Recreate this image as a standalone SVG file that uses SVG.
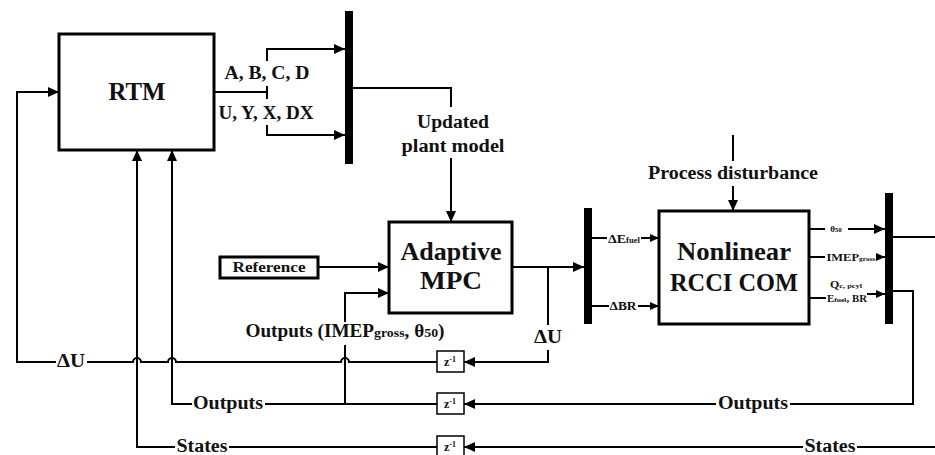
<svg xmlns="http://www.w3.org/2000/svg" width="935" height="455" viewBox="0 0 935 455">
<defs>
<marker id="ah" markerUnits="userSpaceOnUse" markerWidth="11" markerHeight="10" refX="11" refY="5" orient="auto">
<path d="M0,0 L11,5 L0,10 z" fill="#000"/>
</marker>
<marker id="as" markerUnits="userSpaceOnUse" markerWidth="9" markerHeight="8" refX="9" refY="4" orient="auto">
<path d="M0,0 L9,4 L0,8 z" fill="#000"/>
</marker>
</defs>
<style>
text{font-family:"Liberation Serif","Times New Roman",serif;font-weight:bold;fill:#111;text-anchor:middle}
.box{fill:#fff;stroke:#000;stroke-width:3}
.zb{fill:#fff;stroke:#000;stroke-width:1.5}
.bar{fill:#000}
.c{fill:none;stroke:#000;stroke-width:2}
.a{marker-end:url(#ah)}
.s{marker-end:url(#as)}
.big{font-size:26px}
.mid{font-size:18px}
</style>

<g id="connectors">
<path class="c" d="M214,92 H267"/>
<path class="c" d="M267,86 V99"/>
<path class="c a" d="M267,61 V49 H345"/>
<path class="c a" d="M267,125 V135 H345"/>
<path class="c" d="M353,88 H451 V107"/>
<path class="c a" d="M451,158 V222"/>
<path class="c a" d="M318,267 H389"/>
<path class="c a" d="M345,322 V293 H389"/>
<path class="c" d="M345,345 V404"/>
<path class="c a" d="M512,267 H584"/>
<path class="c" d="M548,267 V325"/>
<path class="c a" d="M548,350 V362 H464"/>
<path class="c" d="M592,238 H607"/>
<path class="c s" d="M641,238 H659"/>
<path class="c" d="M592,306 H609"/>
<path class="c s" d="M638,306 H659"/>
<path class="c" d="M733,135 V161"/>
<path class="c a" d="M733,186 V211"/>
<path class="c" d="M809,229 H825"/>
<path class="c a" d="M848,229 H885"/>
<path class="c" d="M809,257 H825"/>
<path class="c s" d="M876,257 H885"/>
<path class="c" d="M809,298 H826"/>
<path class="c s" d="M867,294 H885"/>
<path class="c" d="M893,237 H935"/>
<path class="c" d="M893,291 H913 V404 H790"/>
<path class="c a" d="M716,404 H464"/>
<path class="c" d="M935,447 H857"/>
<path class="c a" d="M803,447 H464"/>
<path class="c" d="M437,362 H349 A4,4 0 0 0 341,362 H176 A4,4 0 0 0 168,362 H141 A4,4 0 0 0 133,362 H87"/>
<path class="c a" d="M56,362 H17 V92 H59"/>
<path class="c" d="M437,404 H265"/>
<path class="c a" d="M192,404 H172 V150"/>
<path class="c" d="M437,447 H229"/>
<path class="c a" d="M175,447 H137 V150"/>
</g>

<g id="rtm">
<rect class="box" x="59" y="34" width="155" height="116"/>
<text class="big" x="137" y="100" textLength="57" lengthAdjust="spacingAndGlyphs">RTM</text>
</g>
<g id="labels-rtm">
<text class="mid" x="267" y="79" textLength="85" lengthAdjust="spacingAndGlyphs">A, B, C, D</text>
<text class="mid" x="266" y="119" textLength="95" lengthAdjust="spacingAndGlyphs">U, Y, X, DX</text>
</g>
<g id="bar1"><rect class="bar" x="345" y="11" width="8" height="153"/></g>
<g id="updated-label">
<text class="mid" x="453" y="128" textLength="72" lengthAdjust="spacingAndGlyphs">Updated</text>
<text class="mid" x="453" y="152" textLength="103" lengthAdjust="spacingAndGlyphs">plant model</text>
</g>
<g id="mpc">
<rect class="box" x="389" y="222" width="123" height="91"/>
<text class="big" x="451" y="260" textLength="101" lengthAdjust="spacingAndGlyphs">Adaptive</text>
<text class="big" x="451" y="289" textLength="62" lengthAdjust="spacingAndGlyphs">MPC</text>
</g>
<g id="reference">
<rect class="box" x="220" y="257" width="98" height="21"/>
<text x="269" y="272" style="font-size:14px" textLength="73" lengthAdjust="spacingAndGlyphs">Reference</text>
</g>
<g id="outputs-label">
<text class="mid" x="345" y="337" textLength="199" lengthAdjust="spacingAndGlyphs">Outputs (IMEP<tspan style="font-size:13px">gross</tspan>, θ<tspan style="font-size:13px">50</tspan>)</text>
</g>
<text class="mid" x="548" y="343" textLength="28" lengthAdjust="spacingAndGlyphs">ΔU</text>
<g id="bar2"><rect class="bar" x="584" y="208" width="8" height="116"/></g>
<text x="624" y="243" style="font-size:13px" textLength="32" lengthAdjust="spacingAndGlyphs">ΔE<tspan style="font-size:8px">fuel</tspan></text>
<text x="623" y="310" style="font-size:13px" textLength="27" lengthAdjust="spacingAndGlyphs">ΔBR</text>
<text class="mid" x="733" y="179" textLength="170" lengthAdjust="spacingAndGlyphs">Process disturbance</text>
<g id="nonlinear">
<rect class="box" x="659" y="211" width="150" height="113"/>
<text class="big" x="734" y="260" textLength="114" lengthAdjust="spacingAndGlyphs">Nonlinear</text>
<text class="big" x="734" y="291" textLength="128" lengthAdjust="spacingAndGlyphs">RCCI COM</text>
</g>
<text x="836" y="232" style="font-size:9px">θ<tspan style="font-size:7px">50</tspan></text>
<text x="851" y="261" style="font-size:10px" textLength="49" lengthAdjust="spacingAndGlyphs">IMEP<tspan style="font-size:6px">gross</tspan></text>
<text x="846" y="288" style="font-size:10px" textLength="32" lengthAdjust="spacingAndGlyphs">Q<tspan style="font-size:7px">c, pcyl</tspan></text>
<text x="847" y="302" style="font-size:10px" textLength="40" lengthAdjust="spacingAndGlyphs">E<tspan style="font-size:7px">fuel</tspan>, BR</text>
<g id="bar3"><rect class="bar" x="885" y="193" width="8" height="131"/></g>
<g id="z1"><rect class="zb" x="437" y="351" width="27" height="21"/><text x="450" y="366" style="font-size:12px">z<tspan style="font-size:8px" dy="-4">-1</tspan></text></g>
<g id="z2"><rect class="zb" x="437" y="393" width="27" height="21"/><text x="450" y="408" style="font-size:12px">z<tspan style="font-size:8px" dy="-4">-1</tspan></text></g>
<g id="z3"><rect class="zb" x="437" y="436" width="27" height="21"/><text x="450" y="451" style="font-size:12px">z<tspan style="font-size:8px" dy="-4">-1</tspan></text></g>
<text class="mid" x="71" y="367" textLength="28" lengthAdjust="spacingAndGlyphs">ΔU</text>
<text class="mid" x="228" y="409" textLength="70" lengthAdjust="spacingAndGlyphs">Outputs</text>
<text class="mid" x="202" y="452" textLength="51" lengthAdjust="spacingAndGlyphs">States</text>
<text class="mid" x="753" y="409" textLength="70" lengthAdjust="spacingAndGlyphs">Outputs</text>
<text class="mid" x="830" y="452" textLength="51" lengthAdjust="spacingAndGlyphs">States</text>
</svg>
